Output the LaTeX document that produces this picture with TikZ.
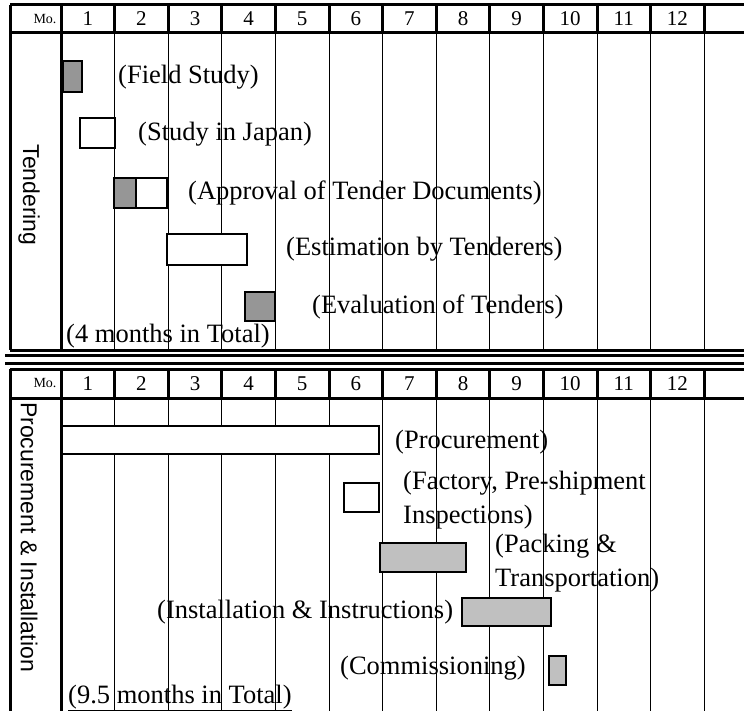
\documentclass[tikz,border=0pt]{standalone}
\usepackage{fontspec}
\setmainfont{Liberation Serif}
\setsansfont{Liberation Sans}
\usetikzlibrary{positioning}
\definecolor{darkbar}{HTML}{969696}
\definecolor{lightbar}{HTML}{C0C0C0}

\begin{document}
\begin{tikzpicture}[x=1pt,y=-1pt, every node/.style={inner sep=0pt}, task/.style={font=\fontsize{26.5}{34}\selectfont,anchor=west,align=left}, month/.style={font=\fontsize{21}{21}\selectfont}, mo/.style={font=\fontsize{14}{14}\selectfont}, side/.style={font=\sffamily\fontsize{23}{23}\selectfont,rotate=-90}, bar/.style={draw,line width=1.4pt,fill=white}, dark/.style={bar,fill=darkbar}, light/.style={bar,fill=lightbar}, frame/.style={line width=3pt}, rule/.style={line width=1pt}]
\useasboundingbox (0,0) rectangle (744,711);
\foreach \t/\b/\e/\s in {5/33/350/t, 369/398/711/p} {
  \draw[frame] (10,\t) -- (744,\t); \draw[frame] (10,\b) -- (744,\b);
  \draw[frame] (10,\t) -- (10,\e); \draw[frame] (61,\t) -- (61,\e);
  \foreach \m in {1,...,12} {
    \draw[frame] ({61+53.6*\m},\t) -- ({61+53.6*\m},\b);
    \draw[rule] ({61+53.6*\m},\b) -- ({61+53.6*\m},\e);
    \node[month] (\s\m) at ({61+53.6*(\m-0.5)},{(\t+\b)/2}) {\m};
  }
  \node[mo] (\s mo) at (45,{(\t+\b)/2}) {Mo.};
}
\draw[frame] (10,350) -- (744,350); \draw[frame] (5,355) -- (744,355); \draw[frame] (5,363) -- (744,363);
\node[side] (tender) at (29,195) {Tendering};
\node[side] (procinst) at (29,537) {Procurement \& Installation};
\draw[dark] (63,61) rectangle (82,92);
\draw[bar] (80,118) rectangle (115,148);
\draw[dark] (114,178) rectangle (136,208); \draw[bar] (136,178) rectangle (167,208);
\draw[bar] (167,234) rectangle (247,265);
\draw[dark] (245,292) rectangle (275,321);
\draw[bar] (62,426) rectangle (379,454);
\draw[bar] (344,483) rectangle (379,512);
\draw[light] (380,543) rectangle (466,572);
\draw[light] (462,598) rectangle (551,626);
\draw[light] (549,656) rectangle (566,685);
\node[task] (field) at (118,77) {(Field Study)};
\node[task] (japan) at (138,134) {(Study in Japan)};
\node[task] (approval) at (188,193) {(Approval of Tender Documents)};
\node[task] (estim) at (286,249) {(Estimation by Tenderers)};
\node[task] (evalu) at (312,307) {(Evaluation of Tenders)};
\node[task,anchor=base west] (total4) at (66,342) {\underline{(4 months in Total)}};
\node[task] (proc) at (395,442) {(Procurement)};
\node[task] (insp) at (403,500) {(Factory, Pre-shipment\\Inspections)};
\node[task] (pack) at (495,563) {(Packing \&\\Transportation)};
\node[task] (inst) at (157,612) {(Installation \& Instructions)};
\node[task] (comm) at (340,668) {(Commissioning)};
\node[task,anchor=base west] (total95) at (68,703) {\underline{(9.5 months in Total)}};
\end{tikzpicture}
\end{document}
